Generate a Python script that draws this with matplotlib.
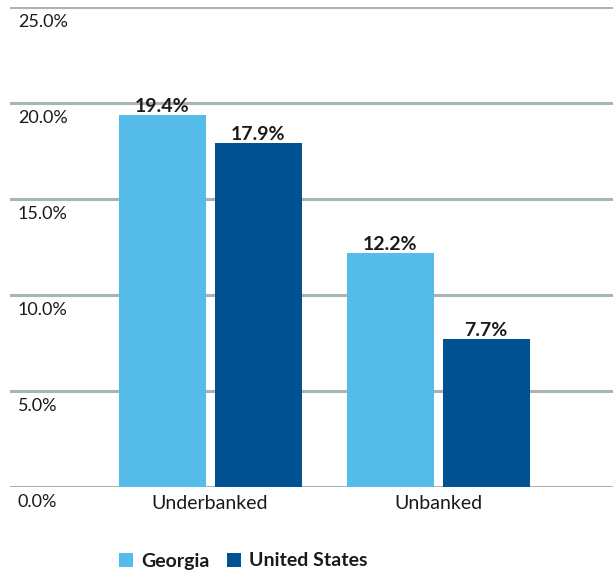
import matplotlib
matplotlib.use("Agg")
import matplotlib.pyplot as plt
from matplotlib.patches import Patch
import numpy as np

categories = ["Underbanked", "Unbanked"]
series_names = ["Georgia", "United States"]
georgia = [19.4, 12.2]
united_states = [17.9, 7.7]
yticks = [0, 5, 10, 15, 20, 25]
ytick_labels = ["0.0%", "5.0%", "10.0%", "15.0%", "20.0%", "25.0%"]

colors = ["#55BCEA", "#005293"]
grid_color = "#A9B5B0"

plt.rcParams['font.family'] = ['Lato', 'DejaVu Sans']

fig = plt.figure(figsize=(6.13, 5.71), dpi=100)
ax = fig.add_axes([10/613, 84/571, 603/613, 480/571])

x = np.arange(len(categories))
w = 87/228
off = 48/228

for yv in yticks:
    ax.axhline(yv, color=grid_color, lw=2.2, zorder=1)

b1 = ax.bar(x - off, georgia, width=w, color=colors[0], zorder=2)
b2 = ax.bar(x + off, united_states, width=w, color=colors[1], zorder=2)

for bars, vals in ((b1, georgia), (b2, united_states)):
    for b, v in zip(bars, vals):
        ax.annotate(f"{v:.1f}%", (b.get_x() + b.get_width()/2, v),
                    xytext=(0, 0), textcoords="offset points",
                    ha="center", va="bottom", fontsize=14,
                    fontweight="bold", color="#1a1a1a", zorder=3)

for yv, lab in zip(yticks, ytick_labels):
    ax.annotate(lab, (8/603, yv), xycoords=("axes fraction", "data"),
                xytext=(0, -5), textcoords="offset points",
                ha="left", va="top", fontsize=13, color="#1a1a1a")

ax.set_xlim(-200/228, 403/228)
ax.set_ylim(0, 25)
ax.set_yticks([])
ax.set_xticks(x)
ax.set_xticklabels(categories, fontsize=14, color="#1a1a1a")
ax.tick_params(axis="x", length=0, pad=6)
for s in ax.spines.values():
    s.set_visible(False)

handles = [Patch(facecolor=c, edgecolor="none") for c in colors]
leg = fig.legend(handles, series_names, loc="center left",
                 bbox_to_anchor=(101/613, 1 - 561/571), frameon=False,
                 ncol=2, handlelength=0.75, handleheight=0.75,
                 handletextpad=0.4, columnspacing=0.9,
                 prop={"size": 14, "weight": "bold"})
for t in leg.get_texts():
    t.set_color("#1a1a1a")

fig.savefig("out.png", dpi=100)
